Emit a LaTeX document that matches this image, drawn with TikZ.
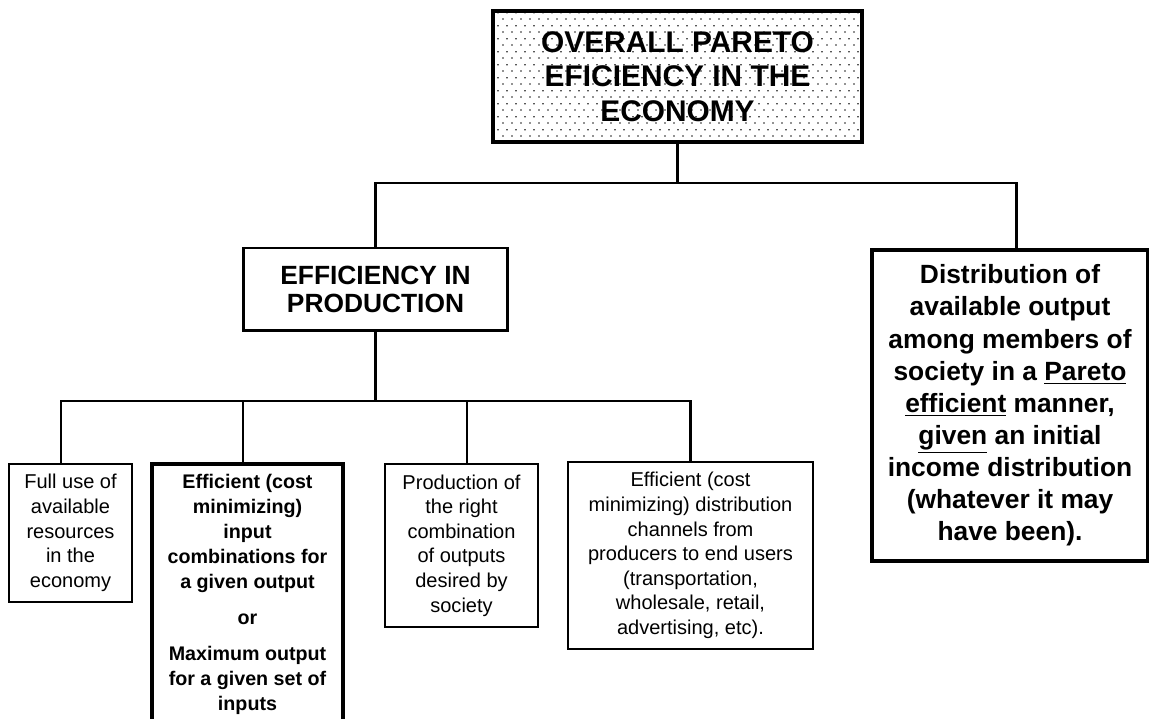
\documentclass[tikz,border=0pt]{standalone}
\usepackage{fontspec}
\setmainfont{Liberation Sans}
\usetikzlibrary{patterns.meta}

\tikzdeclarepattern{
  name=sparsedots,
  type=uncolored,
  bottom left={(0pt,0pt)},
  top right={(5.2pt,7.2pt)},
  tile size={(5.2pt,7.2pt)},
  code={
    \fill (0.2pt,0.2pt) rectangle (0.95pt,0.95pt);
    \fill (2.8pt,3.8pt) rectangle (3.55pt,4.55pt);
  }
}

\begin{document}
\begin{tikzpicture}[x=0.02cm, y=-0.02cm,
    link/.style={line width=1.7pt},
    thinbox/.style={draw, line width=1.1pt, align=center, inner sep=2pt,
      font=\fontsize{11.4}{14}\selectfont},
    thickbox/.style={draw, line width=2.2pt, align=center, inner sep=2pt,
      font=\bfseries}]
  \useasboundingbox (0,0) rectangle (1149,719);
  \clip (0,0) rectangle (1149,719);

  % top level
  \node[thickbox, pattern=sparsedots, minimum width=7.38cm, minimum height=2.62cm,
    font=\bfseries\fontsize{17}{19.6}\selectfont] (overall) at (677.5,76.5)
    {OVERALL PARETO\\EFICIENCY IN THE\\ECONOMY};

  % second level
  \node[thickbox, line width=1.7pt, minimum width=5.3cm, minimum height=1.66cm,
    font=\bfseries\fontsize{15}{16.2}\selectfont] (prod) at (375.5,289.5)
    {EFFICIENCY IN\\PRODUCTION};
  \node[thickbox, minimum width=5.52cm, minimum height=6.22cm,
    font=\bfseries\fontsize{15}{18.3}\selectfont] (distrib) at (1010,405.5)
    {Distribution of\\available output\\among members of\\society in a \underline{Pareto}\\
     \underline{efficient} manner,\\\underline{given} an initial\\income distribution\\
     (whatever it may\\have been).};

  % third level
  \node[thinbox, minimum width=2.46cm, minimum height=2.76cm] (fulluse) at (70.5,533)
    {Full use of\\available\\resources\\in the\\economy};
  \node[thickbox, anchor=north, minimum width=3.82cm, inner ysep=6pt,
    font=\bfseries\fontsize{11.2}{14.2}\selectfont] (inputs) at (247.5,462)
    {Efficient (cost\\minimizing)\\input\\combinations for\\a given output\\[6pt]
     or\\[6.5pt]Maximum output\\for a given set of\\inputs\\[10pt]\mbox{}};
  \node[thinbox, minimum width=3.06cm, minimum height=3.26cm] (outputs) at (461.5,545.5)
    {Production of\\the right\\combination\\of outputs\\desired by\\society};
  \node[thinbox, minimum width=4.9cm, minimum height=3.74cm] (channels) at (690.5,555.5)
    {Efficient (cost\\minimizing) distribution\\channels from\\producers to end users\\
     (transportation,\\wholesale, retail,\\advertising, etc).};

  % connectors
  \coordinate (bus1) at (overall.south |- 0,183);
  \coordinate (bus2) at (prod.south |- 0,401);
  \draw[link] (overall.south) -- (bus1);
  \draw[link] (prod.north) |- (bus1) -| ([xshift=0.12cm]distrib.north);
  \draw[link] (prod.south) -- (bus2);
  \draw[link] ([xshift=-0.19cm]fulluse.north) |- (bus2);
  \draw[link] ([xshift=-0.09cm]inputs.north) -- ([xshift=-0.09cm]inputs.north |- bus2);
  \draw[link] ([xshift=0.11cm]outputs.north) -- ([xshift=0.11cm]outputs.north |- bus2);
  \draw[link] (bus2) -| (channels.north);
\end{tikzpicture}
\end{document}
